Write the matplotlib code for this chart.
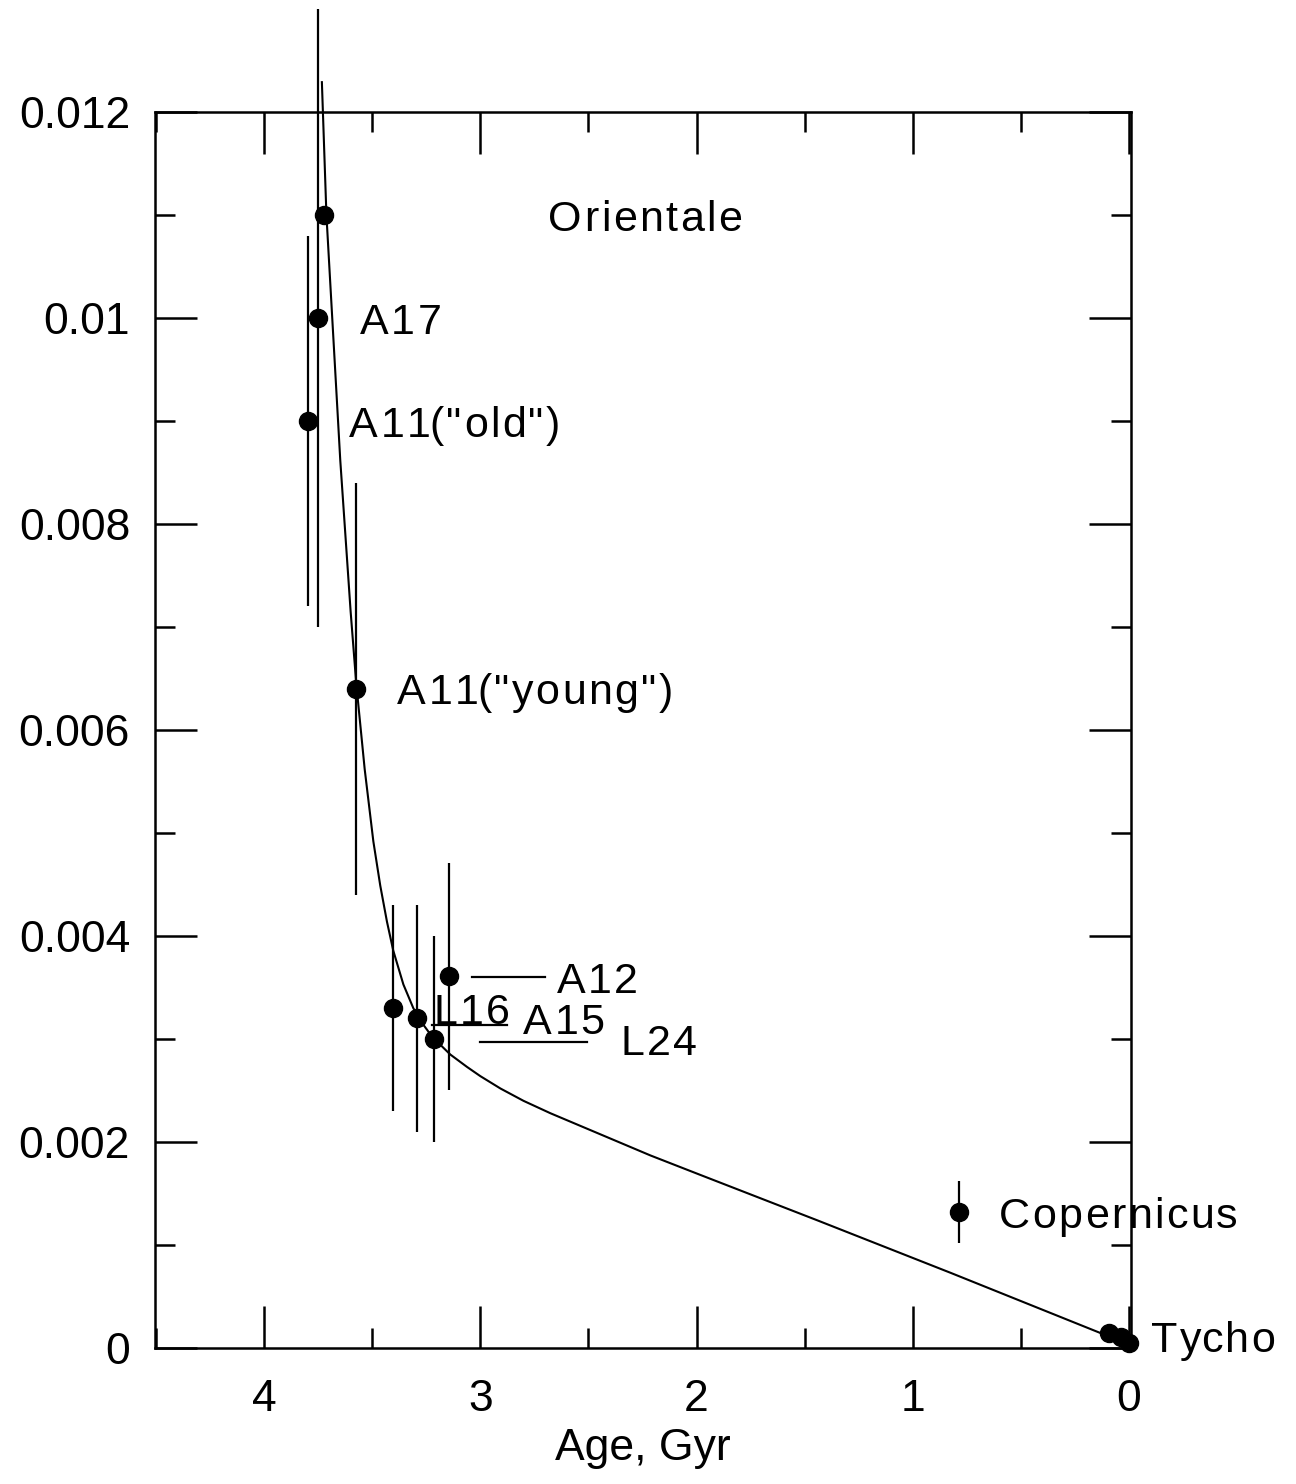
import numpy as np
import matplotlib
matplotlib.use("Agg")
import matplotlib.pyplot as plt
from matplotlib.ticker import MultipleLocator, FuncFormatter
from matplotlib.font_manager import FontProperties
from matplotlib import transforms

plt.rcParams['font.family'] = ['Liberation Sans', 'DejaVu Sans']

# measured sites: age (Gyr), crater density, error
names = ['Orientale', 'A17', 'A11("old")', 'A11("young")', 'L16', 'A15', 'L24', 'A12', 'Copernicus']
age = [3.725, 3.75, 3.796, 3.574, 3.403, 3.292, 3.213, 3.144, 0.787]
dens = [0.0110, 0.0100, 0.0090, 0.0064, 0.0033, 0.0032, 0.0030, 0.00361, 0.00132]
err = [0.0, 0.0030, 0.0018, 0.0020, 0.0010, 0.0011, 0.0010, 0.0011, 0.0003]

# Tycho cluster
tycho_age = [0.091, 0.037, 0.0]
tycho_dens = [0.000142, 0.000110, 0.000046]

# chronology curve
curve_age = [3.733, 3.712, 3.648, 3.600, 3.574, 3.535, 3.495, 3.463, 3.432, 3.403,
             3.356, 3.310, 3.264, 3.222, 3.139, 3.062, 3.000, 2.907, 2.800, 2.676,
             2.213, 1.981, 1.441, 0.824, 0.097]
curve_dens = [0.01229, 0.01100, 0.00862, 0.00715, 0.00645, 0.00562, 0.00492, 0.00449,
              0.00414, 0.00386, 0.00353, 0.00330, 0.00314, 0.00302, 0.00285, 0.00273,
              0.00264, 0.00252, 0.00240, 0.00228, 0.00187, 0.00168, 0.00124, 0.00073,
              0.000117]

# label anchors (left edge, middle)
label_text = ['Orientale', 'A17', 'A11("old")', 'A11("young")', 'A12', 'L16', 'A15', 'L24',
              'Copernicus', 'Tycho']
label_x = [2.685, 3.556, 3.606, 3.384, 2.648, 3.218, 2.801, 2.352, 0.602, -0.102]
label_y = [0.0110, 0.0100, 0.0090, 0.0064, 0.0036, 0.0033, 0.0032, 0.0030, 0.00132, 0.000117]

# leader lines next to the crowded labels
leaders = [([3.037, 2.699], [0.00360, 0.00360]),
           ([3.222, 2.875], [0.00314, 0.00314]),
           ([3.000, 2.505], [0.00297, 0.00297])]

DPI = 100
fig = plt.figure(figsize=(12.96, 14.84), dpi=DPI)
ax = fig.add_axes([0.1196, 0.0916, 0.7531, 0.8329])

ax.plot(curve_age, curve_dens, color='black', lw=1.5, clip_on=False)

eb = ax.errorbar(age, dens, yerr=err, fmt='o', color='black', ms=13,
                 elinewidth=1.6, capsize=0)
eb[0].set_clip_on(False)
for lc in eb[2]:
    lc.set_clip_on(False)

ax.plot(tycho_age, tycho_dens, 'o', color='black', ms=13, clip_on=False)

for xs, ys in leaders:
    ax.plot(xs, ys, color='black', lw=1.6)

# letter-spaced labels, like the original lettering
renderer = fig.canvas.get_renderer()
fp = FontProperties(family=['Liberation Sans', 'DejaVu Sans'], size=31)
track = 2.4  # px between letters


def spaced(x, y, s):
    for i, ch in enumerate(s):
        if i:
            w = renderer.get_text_width_height_descent(s[:i], fp, ismath=False)[0]
        else:
            w = 0
        dx = (w + i * track) * 72.0 / DPI
        tr = transforms.offset_copy(ax.transData, fig=fig, x=dx, y=0, units='points')
        ax.text(x, y, ch, transform=tr, ha='left', va='center_baseline',
                fontproperties=fp, clip_on=False)


for t, x, y in zip(label_text, label_x, label_y):
    spaced(x, y, t)

ax.set_xlim(4.505, -0.01)
ax.set_ylim(0, 0.012)

ax.xaxis.set_major_locator(MultipleLocator(1))
ax.xaxis.set_minor_locator(MultipleLocator(0.5))
ax.yaxis.set_major_locator(MultipleLocator(0.002))
ax.yaxis.set_minor_locator(MultipleLocator(0.001))
ax.xaxis.set_major_formatter(FuncFormatter(lambda v, p: '%d' % round(v)))
ax.yaxis.set_major_formatter(FuncFormatter(lambda v, p: '%g' % round(v, 4)))

ax.tick_params(which='both', direction='in', top=True, right=True, width=1.8,
               labelsize=32, color='black')
ax.tick_params(which='major', length=30)
ax.tick_params(which='minor', length=14.5)
ax.tick_params(axis='y', which='major', pad=18)
ax.tick_params(axis='x', which='major', pad=22)

for s in ax.spines.values():
    s.set_linewidth(1.8)

ax.set_xlabel('Age, Gyr', fontsize=32, labelpad=6)

fig.savefig('out.png', dpi=DPI, facecolor='white')
